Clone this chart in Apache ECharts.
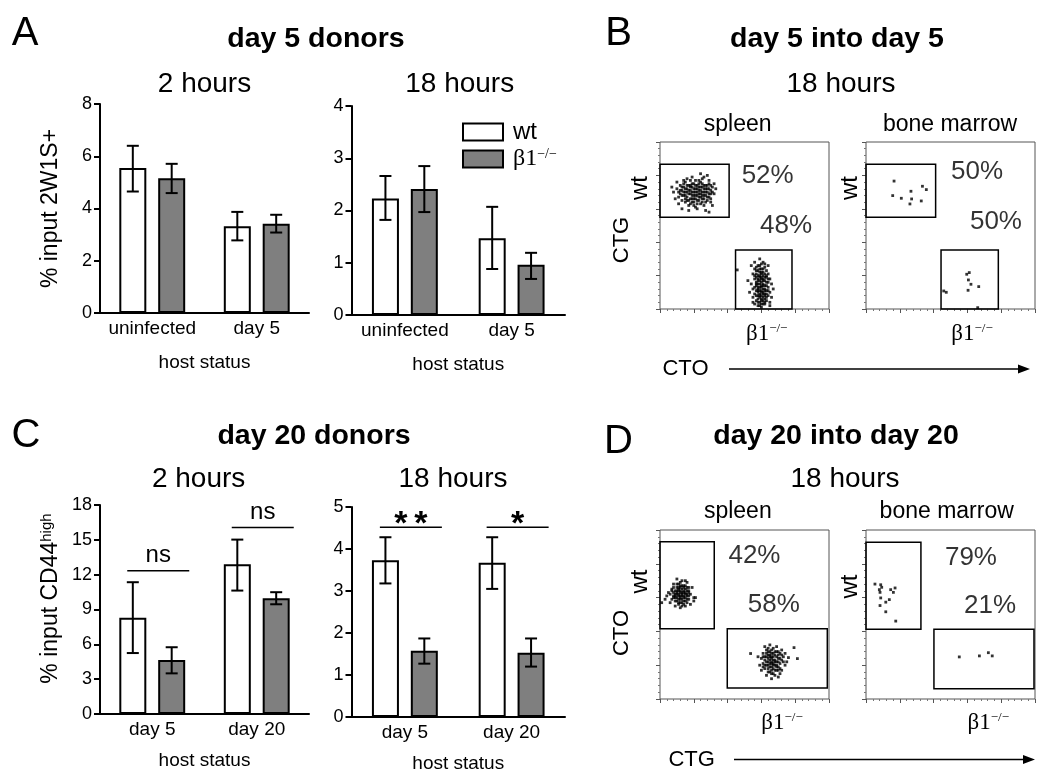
<!DOCTYPE html>
<html>
<head>
<meta charset="utf-8">
<script src="https://cdn.jsdelivr.net/npm/echarts@6/dist/echarts.min.js"></script>
<style>
html,body{margin:0;padding:0;background:#ffffff;}
#chart{width:1050px;height:780px;}
</style>
</head>
<body>
<div id="chart"></div>
<script>
// ================= DATA =================
const catsA = ['uninfected', 'day 5'];
const catsC = ['day 5', 'day 20'];
const seriesNames = ['wt', 'β1-/-'];

// Panel A - day 5 donors, 2 hours (% input 2W1S+)
const a2hWt   = [5.55, 3.32];
const a2hWtLo = [4.65, 2.78];
const a2hWtHi = [6.40, 3.87];
const a2hKo   = [5.16, 3.42];
const a2hKoLo = [4.59, 3.08];
const a2hKoHi = [5.71, 3.76];
// Panel A - 18 hours
const a18hWt   = [2.23, 1.47];
const a18hWtLo = [1.82, 0.88];
const a18hWtHi = [2.66, 2.07];
const a18hKo   = [2.41, 0.96];
const a18hKoLo = [1.97, 0.69];
const a18hKoHi = [2.85, 1.19];
// Panel C - day 20 donors, 2 hours (% input CD44high)
const c2hWt   = [8.30, 12.90];
const c2hWtLo = [5.25, 10.63];
const c2hWtHi = [11.35, 15.02];
const c2hKo   = [4.65, 9.97];
const c2hKoLo = [3.50, 9.45];
const c2hKoHi = [5.75, 10.49];
// Panel C - 18 hours
const c18hWt   = [3.73, 3.67];
const c18hWtLo = [3.18, 3.05];
const c18hWtHi = [4.28, 4.28];
const c18hKo   = [1.58, 1.53];
const c18hKoLo = [1.27, 1.20];
const c18hKoHi = [1.87, 1.87];
// significance brackets [category, level]
const sigC2h = [[0, 12.33], [1, 16.06]];
const sigC2hText = ['ns', 'ns'];
const sigC18h = [[0, 4.52], [1, 4.52]];
const sigC18hText = ['**', '*'];

// Flow plots (display units 0-100 on both axes)
const gatesBSpleen = [[0, 54.9, 40.9, 86.7], [44.7, 0, 78.1, 35.4]];
const gatesBMarrow = [[0, 54.9, 41.2, 86.7], [44.4, 0, 78.3, 35.4]];
const gatesDSpleen = [[0, 41.5, 32.1, 93.1], [39.8, 6.5, 99.0, 41.5]];
const gatesDMarrow = [[0, 41.3, 32.5, 92.7], [40.2, 6.1, 99.4, 41.3]];
const pctBSpleen = ['52%', '48%'];
const pctBMarrow = ['50%', '50%'];
const pctDSpleen = ['42%', '58%'];
const pctDMarrow = ['79%', '21%'];

const bSpleenWt = [[8,70],[10,72],[11,67],[12,74],[12,69],[13,71],[13,65],[14,73],[14,68],[15,70],[15,76],[15,64],[16,72],[16,67],[17,74],[17,69],[17,62],[18,71],[18,66],[18,77],[19,73],[19,68],[19,64],[20,70],[20,75],[20,66],[21,72],[21,68],[21,61],[22,74],[22,70],[22,65],[23,77],[23,71],[23,67],[24,73],[24,69],[24,63],[25,75],[25,70],[25,66],[26,72],[26,68],[26,79],[27,74],[27,70],[27,64],[28,72],[28,67],[29,75],[29,69],[30,71],[30,66],[31,73],[32,69],[33,72],[16,78],[19,79],[24,81],[28,80],[11,63],[13,60],[17,59],[22,60],[26,62],[30,64],[9,66],[7,73],[10,76],[14,77],[21,77],[25,78],[29,77],[32,75],[31,62],[27,59],[20,62],[18,74],[23,73],[15,68],[29,58],
  [12,71],[13,68],[14,70],[14,75],[15,72],[15,66],[16,70],[16,74],[17,71],[17,65],[18,69],[18,73],[19,70],[19,66],[19,75],[20,72],[20,68],[20,64],[21,70],[21,74],[21,66],[22,72],[22,68],[22,63],[23,75],[23,69],[23,65],[24,71],[24,67],[24,76],[25,73],[25,68],[25,64],[26,70],[26,74],[26,66],[27,72],[27,68],[28,70],[28,74],[28,65],[29,72],[29,67],[30,69],[30,74],[31,70],[16,65],[18,63],[13,73],[11,70]];
const bSpleenKo = [[56,28],[58,26],[60,27],[62,25],[57,23],[59,24],[61,22],[63,23],[55,21],[58,20],[60,21],[62,19],[64,21],[56,18],[58,17],[59,19],[61,17],[63,16],[65,18],[54,15],[57,14],[59,15],[60,13],[62,14],[64,13],[66,15],[55,12],[58,11],[60,10],[61,12],[63,11],[65,10],[56,9],[58,8],[59,7],[61,9],[62,6],[64,8],[57,5],[59,4],[60,5],[62,3],[63,5],[58,2],[60,1],[61,3],[65,4],[55,7],[53,10],[66,7],[57,19],[59,22],[61,20],[60,16],[58,13],[62,9],[59,11],[57,16],[63,19],[60,24],[54,26],[59,30],[61,28],[55,4],[65,2],[67,12],[52,17],[64,26],[58,6],[60,18],[61,14],[56,24],[62,12],[59,9],[57,11],[63,7],[56,3],[64,16],[60,8],[58,15],[45.7,23.4],
  [57,25],[59,26],[61,24],[60,22],[58,23],[62,21],[59,20],[57,21],[61,18],[63,20],[58,18],[60,19],[62,17],[59,17],[57,15],[61,15],[63,14],[60,14],[58,12],[62,11],[59,13],[61,10],[60,11],[58,10],[63,9],[57,8],[59,8],[61,7],[60,6],[62,8],[58,4],[60,3],[62,4],[59,2],[61,5],[64,11],[56,13],[64,18],[56,20],[62,27]];
const bMarrowWt = [[16.6,76.6],[15.8,67.9],[20.9,66.3],[26.6,70.5],[27.0,65.9],[26.0,62.9],[33.4,73.5],[35.7,71.5],[32.7,64.7]];
const bMarrowKo = [[59.6,20.8],[61.1,21.8],[60.6,17.4],[62.1,14.8],[60.4,11.2],[66.7,13.4],[46.0,10.8],[47.5,10.0],[66.1,0.8]];
const dSpleenWt = [[6,62],[7,64],[8,60],[8,66],[9,62],[9,58],[10,64],[10,68],[10,60],[11,62],[11,56],[11,66],[12,63],[12,59],[12,69],[13,61],[13,65],[13,57],[14,63],[14,60],[14,67],[15,62],[15,58],[15,65],[16,61],[16,64],[17,59],[17,63],[18,62],[18,56],[9,55],[12,54],[15,55],[7,59],[5,63],[4,61],[1,57],[20,60],[19,66],[16,69],[13,70],[10,71],[8,68],[11,59],[12,61],[10,62],[14,61],[13,63],[11,64],[9,60],[16,57],[17,66],[6,57],[14,56],[20,58],[21,60],[3,59],[15,70],[12,66],[8,63],
  [9,64],[10,66],[11,61],[12,64],[12,57],[13,59],[13,67],[14,64],[14,58],[15,60],[15,63],[16,66],[11,68],[10,58],[9,61],[16,59],[17,61],[13,62],[12,60],[11,65],[14,66],[10,63],[15,67],[8,61],[13,55],[16,62],[12,67],[7,65],[17,64],[11,57]];
const dSpleenKo = [[60,24],[61,21],[61,27],[62,18],[62,25],[63,22],[63,29],[64,16],[64,20],[64,26],[65,23],[65,19],[65,28],[66,15],[66,21],[66,25],[67,23],[67,18],[67,30],[68,20],[68,26],[68,14],[69,22],[69,17],[69,28],[70,24],[70,19],[71,21],[71,27],[72,23],[72,17],[73,25],[74,20],[62,31],[65,32],[69,31],[59,20],[58,25],[60,17],[63,14],[66,12],[70,13],[74,27],[75,22],[66,24],[67,21],[65,26],[68,23],[64,22],[66,19],[67,27],[63,25],[69,20],[70,26],[53.6,26.9],[79.3,30.4],[81.3,23.9],[76,24.5],[61,19],[64,30],[71,15],[72,29],
  [62,23],[63,20],[63,27],[64,24],[64,18],[65,21],[65,25],[66,27],[66,17],[67,25],[67,20],[68,22],[68,28],[69,25],[69,19],[70,22],[70,28],[71,24],[71,18],[72,26],[65,16],[67,15],[62,20],[61,25],[66,29],[70,17],[73,22],[68,17],[64,28],[66,22]];
const dMarrowWt = [[5.3,68.0],[8.7,67.6],[7.9,64.7],[9.3,66.1],[8.3,63.1],[14.6,64.7],[17.2,65.7],[16.2,63.1],[8.7,59.8],[13.8,58.8],[11.7,57.3],[8.3,55.3],[11.7,51.6],[17.6,46.1]];
const dMarrowKo = [[55.2,24.9],[67.1,25.5],[72.4,27.4],[74.7,25.5]];

// ================= STYLE / LAYOUT =================
const SANS = '"Liberation Sans", Arial, Helvetica, sans-serif';
const SERIF = '"Liberation Serif", "Times New Roman", serif';
const GREY = '#7f7f7f';
const BAR_W = 27, BAR_GAP = 0.44, CAP = 6;
const OFF = BAR_W * (1 + BAR_GAP) / 2;

const grids = [
  {left: 100, top: 104, width: 209, height: 209},
  {left: 351.5, top: 106, width: 213.5, height: 209},
  {left: 100, top: 505, width: 209, height: 209},
  {left: 351.5, top: 507, width: 213.5, height: 210},
  {left: 660, top: 142, width: 169, height: 167, show: true, borderColor: '#555', borderWidth: 1},
  {left: 866, top: 142, width: 169, height: 167, show: true, borderColor: '#555', borderWidth: 1},
  {left: 660, top: 530, width: 169, height: 169, show: true, borderColor: '#555', borderWidth: 1},
  {left: 866, top: 530, width: 169, height: 169, show: true, borderColor: '#555', borderWidth: 1}
];
// percentage label anchors in display units
const pctPos = [
  [[63.7, 79.7], [74.6, 49.8]],
  [[65.7, 82.1], [76.9, 52.3]],
  [[55.9, 84.8], [67.3, 55.5]],
  [[62.1, 83.8], [73.4, 54.9]]
];

function barX(gi, cats, gap) {
  return {type: 'category', gridIndex: gi, data: cats,
    axisLine: {show: true, onZero: false, lineStyle: {color: '#000', width: 2}},
    axisTick: {show: false},
    axisLabel: {color: '#000', fontSize: 19, fontFamily: SANS, margin: 6, interval: 0},
    splitLine: {show: false},
    name: 'host status', nameLocation: 'middle', nameGap: gap,
    nameTextStyle: {color: '#000', fontSize: 19, fontFamily: SANS}};
}
function barY(gi, max, interval, name, gap, extra) {
  return {type: 'value', gridIndex: gi, min: 0, max: max, interval: interval,
    axisLine: {show: true, lineStyle: {color: '#000', width: 2}},
    axisTick: {show: true, length: 6, lineStyle: {color: '#000', width: 2}},
    axisLabel: {color: '#000', fontSize: 18, fontFamily: SANS, margin: 8},
    splitLine: {show: false},
    name: name, nameLocation: 'middle', nameGap: gap, nameRotate: 90,
    nameTextStyle: Object.assign({color: '#000', fontSize: 23, fontFamily: SANS}, extra || {})};
}
function flowAxis(gi, isX) {
  return {type: 'value', gridIndex: gi, min: 0, max: 100, interval: 20,
    axisLine: {show: false},
    axisTick: {show: true, length: 4, lineStyle: {color: '#555', width: 1}},
    minorTick: {show: true, splitNumber: 5, length: 2, lineStyle: {color: '#777', width: 1}},
    axisLabel: {show: false}, splitLine: {show: false}, minorSplitLine: {show: false}};
}
function bars(gi, name, color, vals) {
  return {type: 'bar', name: name, xAxisIndex: gi, yAxisIndex: gi, data: vals,
    barWidth: BAR_W, barGap: (BAR_GAP * 100) + '%', z: 2, silent: true,
    itemStyle: {color: color, borderColor: '#000', borderWidth: 2}};
}
function errBars(gi, lo, hi, side) {
  return {type: 'custom', xAxisIndex: gi, yAxisIndex: gi, z: 5, silent: true,
    data: lo.map((l, i) => [i, l, hi[i]]),
    encode: {x: 0, y: [1, 2]},
    renderItem: function (params, api) {
      const a = api.coord([api.value(0), api.value(1)]);
      const b = api.coord([api.value(0), api.value(2)]);
      const x = a[0] + side * OFF;
      const st = {stroke: '#000', lineWidth: 2};
      return {type: 'group', children: [
        {type: 'line', shape: {x1: x, y1: a[1], x2: x, y2: b[1]}, style: st},
        {type: 'line', shape: {x1: x - CAP, y1: a[1], x2: x + CAP, y2: a[1]}, style: st},
        {type: 'line', shape: {x1: x - CAP, y1: b[1], x2: x + CAP, y2: b[1]}, style: st}
      ]};
    }};
}
function sigBars(gi, items, texts) {
  return {type: 'custom', xAxisIndex: gi, yAxisIndex: gi, z: 5, silent: true,
    data: items,
    renderItem: function (params, api) {
      const p = api.coord([api.value(0), api.value(1)]);
      const cx = p[0] + 6;
      const t = texts[params.dataIndex];
      const star = t.indexOf('*') >= 0;
      return {type: 'group', children: [
        {type: 'line', shape: {x1: cx - 31, y1: p[1], x2: cx + 31, y2: p[1]}, style: {stroke: '#000', lineWidth: 1.5}},
        {type: 'text', x: cx, y: star ? p[1] - 3 : p[1] - 15.5,
          style: {text: star ? t.split('').join('\u2009') : t, fill: '#000',
            fontSize: star ? 34 : 24, fontWeight: star ? 'bold' : 'normal', fontFamily: SANS,
            textAlign: 'center', textVerticalAlign: 'middle'}}
      ]};
    }};
}
function flowPts(gi, pts, gates) {
  const s = {type: 'scatter', xAxisIndex: gi, yAxisIndex: gi, data: pts, symbol: 'rect',
    symbolSize: 2.8, itemStyle: {color: '#000'}, silent: true, z: 3};
  if (gates) {
    s.markArea = {silent: true, itemStyle: {color: 'rgba(0,0,0,0)', borderColor: '#000', borderWidth: 1.5},
      data: gates.map(g => [{coord: [g[0], g[1]]}, {coord: [g[2], g[3]]}])};
  }
  return s;
}
function pctLabels(gi, texts, pos) {
  return {type: 'scatter', xAxisIndex: gi, yAxisIndex: gi, silent: true, symbolSize: 1, z: 4,
    itemStyle: {color: 'rgba(0,0,0,0)'},
    data: texts.map((t, i) => ({name: t, value: pos[i]})),
    label: {show: true, position: 'inside', formatter: '{b}', color: '#000', fontSize: 26, fontFamily: SANS}};
}

const supRich = {
  a: {fontSize: 23, fontFamily: SANS, color: '#000'},
  s: {fontSize: 15, fontFamily: SANS, color: '#000', verticalAlign: 'top'}
};
function betaRich(size) {
  return {
    b: {fontSize: size, fontFamily: SERIF, color: '#000'},
    s: {fontSize: Math.round(size * 0.58), fontFamily: SERIF, color: '#000', verticalAlign: 'top'},
    w: {fontSize: size, fontFamily: SANS, color: '#000'}
  };
}
function T(x, y, text, size, opt) {
  opt = opt || {};
  return {type: 'text', x: x, y: y, rotation: opt.rot ? Math.PI / 2 : 0, silent: true,
    style: {text: text, fill: '#000', fontSize: size, fontFamily: opt.ff || SANS,
      fontWeight: opt.bold ? 'bold' : 'normal', textAlign: 'center', textVerticalAlign: 'middle',
      rich: opt.rich}};
}
function beta(x, y) { return T(x, y, '{b|β1}{s|−/−}', 23, {rich: betaRich(23)}); }
function arrow(x1, x2, y) {
  return {type: 'group', silent: true, children: [
    {type: 'line', shape: {x1: x1, y1: y, x2: x2 - 8, y2: y}, style: {stroke: '#000', lineWidth: 1.5}},
    {type: 'polygon', shape: {points: [[x2, y], [x2 - 12, y - 4.5], [x2 - 12, y + 4.5]]}, style: {fill: '#000'}}
  ]};
}

const graphics = [
  T(25, 34, 'A', 40), T(618.5, 34, 'B', 40), T(26, 436, 'C', 40), T(618.5, 442, 'D', 40),
  T(316, 39, 'day 5 donors', 28.5, {bold: true}),
  T(837, 39, 'day 5 into day 5', 28.5, {bold: true}),
  T(314, 436, 'day 20 donors', 28.5, {bold: true}),
  T(836, 436, 'day 20 into day 20', 28.5, {bold: true}),
  T(204.5, 84, '2 hours', 28), T(459.7, 84, '18 hours', 28), T(841, 84.5, '18 hours', 28),
  T(198.6, 479, '2 hours', 28), T(453, 479, '18 hours', 28), T(845, 479, '18 hours', 28),
  T(737.7, 125, 'spleen', 23), T(950, 125, 'bone marrow', 23),
  T(737.8, 512, 'spleen', 23), T(946.7, 512, 'bone marrow', 23),
  T(640.5, 188, 'wt', 24, {rot: true}), T(850.5, 188, 'wt', 24, {rot: true}), T(621.5, 240, 'CTG', 22, {rot: true}),
  T(640.5, 581.5, 'wt', 24, {rot: true}), T(850, 586.5, 'wt', 24, {rot: true}), T(621.5, 633, 'CTO', 22, {rot: true}),
  beta(766.7, 334), beta(972, 334), beta(782, 723), beta(988.3, 723),
  T(685.5, 369, 'CTO', 22), arrow(729, 1030, 369),
  T(691.7, 760, 'CTG', 22), arrow(734, 1035, 759.5)
];

const option = {
  animation: false,
  backgroundColor: '#ffffff',
  textStyle: {fontFamily: SANS, color: '#000'},
  grid: grids,
  legend: {
    data: seriesNames, orient: 'vertical', left: 462, top: 120, padding: 0,
    itemWidth: 40, itemHeight: 17, itemGap: 3, icon: 'rect', selectedMode: false,
    itemStyle: {borderColor: '#000', borderWidth: 2},
    formatter: function (n) { return n === 'wt' ? '{w|wt}' : '{b|β1}{s|−/−}'; },
    textStyle: {padding: [0, 0, 0, 5], rich: betaRich(24)}
  },
  xAxis: [
    barX(0, catsA, 40), barX(1, catsA, 40), barX(2, catsC, 37), barX(3, catsC, 37),
    flowAxis(4, true), flowAxis(5, true), flowAxis(6, true), flowAxis(7, true)
  ],
  yAxis: [
    barY(0, 8, 2, '% input 2W1S+', 38),
    barY(1, 4, 1, '', 38),
    barY(2, 18, 3, '{a|% input CD44}{s|high}', 38, {rich: supRich, padding: [0, 0, 0, 22]}),
    barY(3, 5, 1, '', 38),
    flowAxis(4, false), flowAxis(5, false), flowAxis(6, false), flowAxis(7, false)
  ],
  series: [
    bars(0, seriesNames[0], '#ffffff', a2hWt), bars(0, seriesNames[1], GREY, a2hKo),
    errBars(0, a2hWtLo, a2hWtHi, -1), errBars(0, a2hKoLo, a2hKoHi, 1),
    bars(1, seriesNames[0], '#ffffff', a18hWt), bars(1, seriesNames[1], GREY, a18hKo),
    errBars(1, a18hWtLo, a18hWtHi, -1), errBars(1, a18hKoLo, a18hKoHi, 1),
    bars(2, seriesNames[0], '#ffffff', c2hWt), bars(2, seriesNames[1], GREY, c2hKo),
    errBars(2, c2hWtLo, c2hWtHi, -1), errBars(2, c2hKoLo, c2hKoHi, 1),
    sigBars(2, sigC2h, sigC2hText),
    bars(3, seriesNames[0], '#ffffff', c18hWt), bars(3, seriesNames[1], GREY, c18hKo),
    errBars(3, c18hWtLo, c18hWtHi, -1), errBars(3, c18hKoLo, c18hKoHi, 1),
    sigBars(3, sigC18h, sigC18hText),
    flowPts(4, bSpleenWt, gatesBSpleen), flowPts(4, bSpleenKo), pctLabels(4, pctBSpleen, pctPos[0]),
    flowPts(5, bMarrowWt, gatesBMarrow), flowPts(5, bMarrowKo), pctLabels(5, pctBMarrow, pctPos[1]),
    flowPts(6, dSpleenWt, gatesDSpleen), flowPts(6, dSpleenKo), pctLabels(6, pctDSpleen, pctPos[2]),
    flowPts(7, dMarrowWt, gatesDMarrow), flowPts(7, dMarrowKo), pctLabels(7, pctDMarrow, pctPos[3])
  ],
  graphic: graphics
};

const chart = echarts.init(document.getElementById('chart'), null, {renderer: 'canvas'});
chart.setOption(option);
</script>
</body>
</html>
